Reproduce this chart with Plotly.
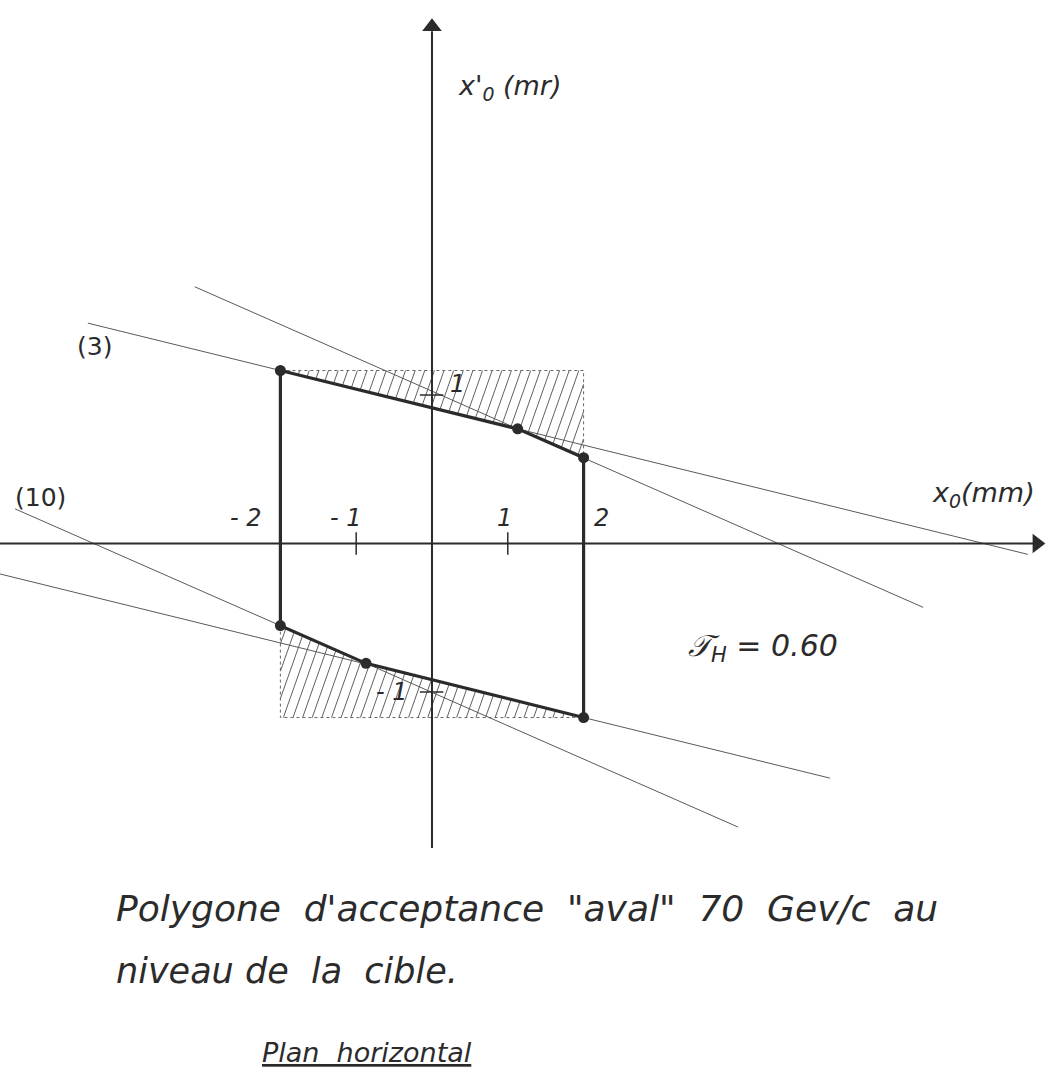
import numpy as np
import plotly.graph_objects as go

# Acceptance polygon corners: x0 (mm), x0' (mr)
poly_x = [-2.0, 1.13, 2.0, 2.0, -0.87, -2.0]
poly_y = [1.165, 0.772, 0.578, -1.172, -0.807, -0.553]

# Limiting lines (end points, x0 in mm / x0' in mr)
line3_x = [-4.54, 7.86]
line3_y = [1.484, -0.073]
line_up_x = [-3.13, 6.48]
line_up_y = [1.729, -0.430]
line10_x = [-5.5, 4.04]
line10_y = [0.233, -1.910]
line_lo_x = [-5.7, 5.25]
line_lo_y = [-0.205, -1.580]

# Target window (hatched box)
win_x = [-2.0, 2.0]
win_y = [-1.172, 1.165]

# Axis ticks
x_ticks = [-1, 1]
y_ticks = [-1, 1]
x_tick_text = ["- 2", "- 1", "1", "2"]
y_tick_text = ["1", "- 1"]

tau_h = 0.60

INK = "#2b2b2b"
THIN = "#5a5a5a"
FONT = "DejaVu Sans"

X0, X1 = -5.699, 8.140
Y0, Y1 = -3.633, 3.660

fig = go.Figure()


def seg(xs, ys, color, width, dash="solid"):
    fig.add_trace(go.Scatter(x=xs, y=ys, mode="lines",
                             line=dict(color=color, width=width, dash=dash),
                             hoverinfo="skip", showlegend=False))


# hatching between the polygon and the window border
def hatch(edge_x, edge_y, y_lim, above, spacing=0.127, m=1.45):
    xs, ys = [], []
    yy = np.linspace(win_y[0], win_y[1], 4000)
    c_lo = win_x[0] - win_y[1] / m - spacing
    c_hi = win_x[1] - win_y[0] / m + spacing
    for c in np.arange(c_lo, c_hi, spacing):
        xx = c + yy / m
        f = np.interp(xx, edge_x, edge_y)
        inside = (xx >= win_x[0]) & (xx <= win_x[1])
        if above:
            mask = inside & (yy >= f) & (yy <= y_lim)
        else:
            mask = inside & (yy <= f) & (yy >= y_lim)
        idx = np.nonzero(mask)[0]
        if len(idx) < 2:
            continue
        xs += [xx[idx[0]], xx[idx[-1]], None]
        ys += [yy[idx[0]], yy[idx[-1]], None]
    return xs, ys


up_x, up_y = poly_x[0:3], poly_y[0:3]
lo_x, lo_y = poly_x[5:2:-1], poly_y[5:2:-1]

hx, hy = hatch(up_x, up_y, win_y[1], True)
seg(hx, hy, "#606060", 1)
hx, hy = hatch(lo_x, lo_y, win_y[0], False)
seg(hx, hy, "#606060", 1)

# window border
seg([win_x[0], win_x[1], win_x[1]], [win_y[1], win_y[1], poly_y[2]], "#666666", 1, "dot")
seg([win_x[0], win_x[0], win_x[1]], [poly_y[5], win_y[0], win_y[0]], "#666666", 1, "dot")

# limiting lines
for lx, ly in [(line3_x, line3_y), (line_up_x, line_up_y),
               (line10_x, line10_y), (line_lo_x, line_lo_y)]:
    seg(lx, ly, THIN, 1)

# axes with arrow heads
seg([X0, 7.98], [0, 0], INK, 2)
seg([0, 0], [-2.05, 3.45], INK, 2)
fig.add_trace(go.Scatter(x=[7.98], y=[0], mode="markers",
                         marker=dict(symbol="triangle-right", size=17, color=INK),
                         hoverinfo="skip", showlegend=False))
fig.add_trace(go.Scatter(x=[0], y=[3.48], mode="markers",
                         marker=dict(symbol="triangle-up", size=17, color=INK),
                         hoverinfo="skip", showlegend=False))

# tick marks
for t in x_ticks:
    seg([t, t], [-0.075, 0.075], INK, 1.5)
for t in y_ticks:
    seg([-0.16, 0.15], [t, t], INK, 1.5)

# acceptance polygon
fig.add_trace(go.Scatter(x=poly_x + [poly_x[0]], y=poly_y + [poly_y[0]],
                         mode="lines", line=dict(color=INK, width=3.2),
                         hoverinfo="skip", showlegend=False))
fig.add_trace(go.Scatter(x=poly_x, y=poly_y, mode="markers",
                         marker=dict(color=INK, size=11),
                         hoverinfo="skip", showlegend=False))

ann = []


def label(text, x, y, size=24, xanchor="center"):
    ann.append(dict(x=x, y=y, xref="x", yref="y", text=text,
                    showarrow=False, xanchor=xanchor, yanchor="middle",
                    font=dict(family=FONT, size=size, color=INK)))


# tick labels
for txt, xv in zip(x_tick_text, [-2.45, -1.13, 0.96, 2.24]):
    label("<i>%s</i>" % txt, xv, 0.17)
label("<i>%s</i>" % y_tick_text[0], 0.33, 1.074)
label("<i>%s</i>" % y_tick_text[1], -0.53, -1.0)

# axis titles
label("<i>x'<sub>0</sub> (mr)</i>", 1.03, 3.07, 27)
label("<i>x<sub>0</sub>(mm)</i>", 7.27, 0.33, 27)

# line labels
label("(3)", -4.45, 1.33, 25)
label("(10)", -5.17, 0.31, 25)

# transmission
label("<i>𝒯<sub>H</sub> = %.2f</i>" % tau_h, 4.37, -0.70, 30)


# caption
def cap(text, px, py, size=35):
    ann.append(dict(x=px / 1049, y=1 - py / 1083, xref="paper", yref="paper",
                    text=text, showarrow=False, xanchor="left", yanchor="middle",
                    font=dict(family=FONT, size=size, color=INK)))


S = "&nbsp;"
cap("<i>Polygone" + S * 2 + "d'acceptance" + S * 2 + "\"aval\"" + S * 2 + "70" + S * 2
    + "Gev/c" + S * 2 + "au</i>", 114, 908, 36)
cap("<i>niveau de" + S * 2 + "la" + S * 2 + "cible.</i>", 114, 971)
cap("<i><u>Plan" + S * 2 + "horizontal</u></i>", 260, 1052, 27)

fig.update_layout(
    width=1049, height=1083, autosize=False,
    margin=dict(l=0, r=0, t=0, b=0),
    paper_bgcolor="white", plot_bgcolor="white",
    xaxis=dict(range=[X0, X1], visible=False, fixedrange=True),
    yaxis=dict(range=[Y0, Y1], visible=False, fixedrange=True),
    annotations=ann,
    showlegend=False,
)

fig.write_html("out.html")
